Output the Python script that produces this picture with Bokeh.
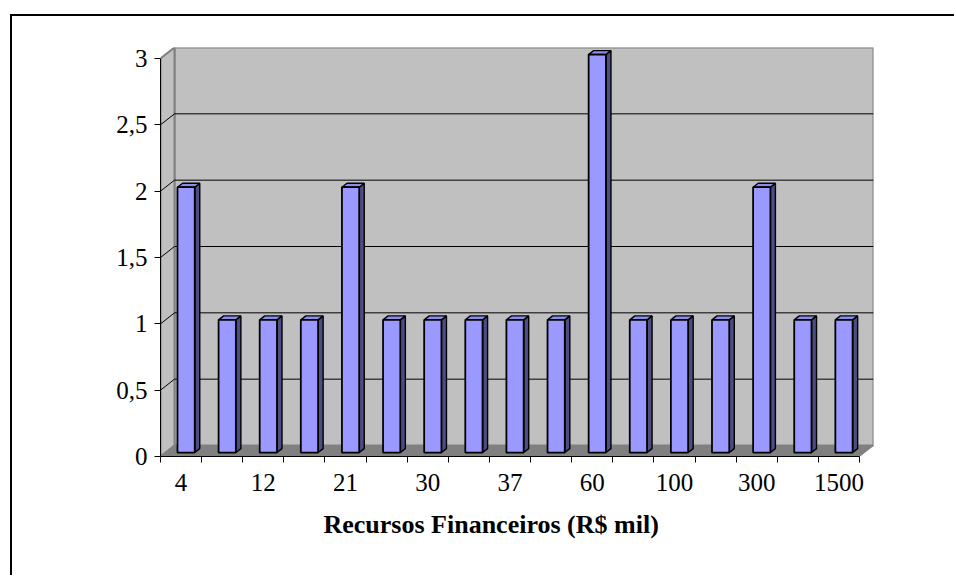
from bokeh.plotting import figure
from bokeh.models import FixedTicker, Range1d, Title
from bokeh.embed import file_html
from bokeh.resources import INLINE

# ---- data ----
values = [2, 1, 1, 1, 2, 1, 1, 1, 1, 1, 3, 1, 1, 1, 2, 1, 1]
label_index = [0, 2, 4, 6, 8, 10, 12, 14, 16]
tick_labels = ["4", "12", "21", "30", "37", "60", "100", "300", "1500"]
y_ticks = [0.0, 0.5, 1.0, 1.5, 2.0, 2.5, 3.0]
y_tick_labels = ["0", "0,5", "1", "1,5", "2", "2,5", "3"]
x_title = "Recursos Financeiros (R$ mil)"
y_max = 3.0

# ---- geometry (pixels -> data units) ----
n = len(values)
ox, oy = 12, 16                 # canvas origin on page
front_left, front_right = 160, 859
front_bottom, front_top = 456, 58
DXp, DYp = 14, 11               # 3-D depth in pixels
ux = (front_right - front_left) / n
uy = (front_bottom - front_top) / y_max
dx, dy = DXp / ux, DYp / uy
W, H = 956 - ox, 577 - oy

p = figure(width=W, height=H, output_backend="svg", toolbar_location=None,
           x_range=Range1d(0, n + dx), y_range=Range1d(0, y_max + dy),
           min_border_left=front_left - ox, min_border_top=front_top - DYp - oy,
           min_border_right=W - (front_right + DXp - ox),
           min_border_bottom=H - (front_bottom - oy))
p.styles = {"border-top": "2px solid black", "border-left": "2px solid black",
            "margin-left": "10px", "margin-top": "14px"}
p.outline_line_color = None
p.grid.visible = False
p.background_fill_color = "white"

wall = "#C0C0C0"
edge = "#808080"
# back wall
p.patch([dx, n + dx, n + dx, dx], [dy, dy, y_max + dy, y_max + dy],
        fill_color=wall, line_color=edge, line_width=2)
# left side wall
p.patch([0, dx, dx, 0], [0, dy, y_max + dy, y_max],
        fill_color=wall, line_color=edge, line_width=2)
# floor
p.patch([0, n, n + dx, dx], [0, 0, dy, dy], fill_color=edge, line_color=edge, line_width=1)

# gridlines (back wall + side wall)
for t in y_ticks[1:-1]:
    p.line([0, dx, n + dx], [t, t + dy, t + dy], line_color="black", line_width=1)

# bars
f0 = 0.36
bw = 0.42
bdx, bdy = f0 * dx, f0 * dy
sx, sy = f0 * dx, f0 * dy
xs_front, ys_front, xs_side, ys_side, xs_top, ys_top = [], [], [], [], [], []
for i, v in enumerate(values):
    c = i + 0.5 + sx
    xl, xr = c - bw / 2, c + bw / 2
    y0, y1 = sy, sy + v
    xs_front.append([xl, xr, xr, xl]); ys_front.append([y0, y0, y1, y1])
    xs_side.append([xr, xr + bdx, xr + bdx, xr]); ys_side.append([y0, y0 + bdy, y1 + bdy, y1])
    xs_top.append([xl, xr, xr + bdx, xl + bdx]); ys_top.append([y1, y1, y1 + bdy, y1 + bdy])
p.patches(xs_side, ys_side, fill_color="#4D4D80", line_color="black", line_width=1.4)
p.patches(xs_top, ys_top, fill_color="#8C8CEB", line_color="black", line_width=1.4)
p.patches(xs_front, ys_front, fill_color="#9999FF", line_color="black", line_width=1.8)

font = "Liberation Serif"
# y axis
ya = p.yaxis[0]
ya.ticker = FixedTicker(ticks=y_ticks)
ya.major_label_overrides = {t: l for t, l in zip(y_ticks, y_tick_labels)}
ya.bounds = (0, y_max)
ya.major_tick_out = 6
ya.major_tick_in = 0
ya.minor_tick_out = 0
ya.minor_tick_in = 0
ya.major_label_standoff = 7
ya.major_label_text_font = font
ya.major_label_text_font_size = "25px"
ya.major_label_text_color = "black"
ya.axis_line_color = "black"
ya.major_tick_line_color = "black"

# x axis
xa = p.xaxis[0]
centers = [i + 0.5 for i in label_index]
xa.ticker = FixedTicker(ticks=centers, minor_ticks=list(range(n + 1)))
xa.major_label_overrides = {c: l for c, l in zip(centers, tick_labels)}
xa.bounds = (0, n)
xa.major_tick_out = 0
xa.major_tick_in = 0
xa.minor_tick_out = 6
xa.minor_tick_in = 0
xa.minor_tick_line_color = "black"
xa.major_label_standoff = 11
xa.major_label_text_font = font
xa.major_label_text_font_size = "25px"
xa.major_label_text_color = "black"
xa.axis_line_color = "black"

title = Title(text=x_title, align="left", offset=163, standoff=28,
              text_font=font, text_font_style="bold", text_font_size="26px",
              text_color="black")
p.add_layout(title, "below")

open("out.html", "w").write(file_html(p, INLINE))
